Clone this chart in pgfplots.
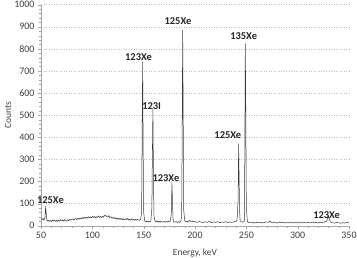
\documentclass[border=0pt]{standalone}
\usepackage{fontspec}
\setmainfont{Carlito}
\usepackage{pgfplots}
\pgfplotsset{compat=1.18}
\usepackage{pgfplotstable}
\definecolor{gridc}{HTML}{BFBFBF}
\definecolor{axc}{HTML}{A6A6A6}
\definecolor{txt}{HTML}{404040}
\definecolor{linec}{HTML}{3A3A3A}
\pgfplotstableread{
x y
50 30
51 27
52 33
53 25
54 40
54.5 88
55 60
55.5 30
56 21
57 25
58 19
59 24
60 20
61 25
62 21
63 26
64 20
65 24
66 19
67 25
68 21
69 27
70 22
71 26
72 21
73 28
74 23
75 21
76 27
77 22
78 29
79 24
80 28
81 31
82 25
83 30
84 33
85 27
86 34
87 29
88 35
89 30
90 37
91 32
92 39
93 33
94 38
95 34
96 41
97 35
98 40
99 36
100 42
101 37
102 43
103 35
104 41
105 37
106 44
107 38
108 42
109 36
110 43
111 39
112 46
113 48
114 41
115 39
116 45
117 37
118 41
119 34
120 38
121 32
122 37
123 30
124 35
125 29
126 34
127 28
128 33
129 27
130 32
131 26
132 31
133 27
134 33
135 26
136 30
137 25
138 31
139 26
140 29
141 24
142 30
143 25
144 29
145 26
146 24
147 30
148 60
148.5 400
149 742
149.5 350
150 60
151 22
152 17
153 21
154 16
155 20
156 17
157 22
158 80
158.5 330
159 530
159.5 250
160 45
161 21
162 17
163 22
164 16
165 20
166 15
167 21
168 17
169 18
170 20
171 15
172 19
173 16
174 20
175 17
176 22
177 60
177.5 196
178 120
178.5 40
179 20
180 16
181 17
182 18
183 14
184 18
185 15
186 18
187 40
187.5 400
188 885
188.5 500
189 70
190 22
191 17
192 21
193 16
194 22
195 24
196 19
197 17
198 21
199 16
200 19
202 15
204 19
206 16
208 14
210 18
212 15
214 19
216 14
218 17
220 15
222 18
224 14
226 17
228 15
230 18
232 14
234 17
236 15
238 18
240 19
241 25
242 120
242.5 370
243 200
243.5 60
244 22
245 18
246 17
247 16
248 20
248.5 300
249 825
249.5 500
250 80
251 20
252 15
254 13
256 16
258 12
260 15
262 13
264 16
266 12
268 15
270 17
272 15
273 22
274 16
276 13
278 15
280 12
282 16
284 13
286 15
288 12
290 16
292 13
294 15
296 12
298 16
300 13
302 15
304 12
306 16
308 13
310 15
312 12
314 16
316 13
318 15
320 12
322 16
324 13
326 17
328 20
329 30
330 42
331 28
332 17
334 13
336 12
338 15
340 13
342 11
344 14
346 12
348 15
350 12
}\spec
\begin{document}
\begin{tikzpicture}
\begin{axis}[
  name=ax,
  scale only axis, width=308bp, height=221bp,
  xmin=50, xmax=350, ymin=0, ymax=1000,
  axis x line=bottom, axis y line=left,
  axis line style={axc, -},
  xtick={50,100,...,350}, ytick={0,100,...,1000},
  minor x tick num=4, minor y tick num=4,
  tick style={axc}, major tick length=3bp, minor tick length=2bp,
  tick align=outside,
  ymajorgrids, major grid style={gridc, dash pattern=on 1bp off 1.5bp},
  ticklabel style={font=\fontsize{10}{11}\selectfont, text=txt},
  /pgf/number format/assume math mode=true,
  /pgf/number format/set thousands separator={},
  xlabel={Energy, keV}, ylabel={Counts},
  xlabel style={at={(axis description cs:0.5,-0.1235)}, anchor=center, font=\fontsize{9.5}{10}\selectfont, text=txt},
  ylabel style={at={(axis description cs:-0.107,0.5)}, anchor=center, font=\fontsize{9.5}{10}\selectfont, text=txt},
  clip=false,
]
\addplot[linec, line width=0.5pt, mark=none] table[x=x,y=y]{\spec};
\begin{scope}[every node/.style={font=\bfseries\fontsize{10.5}{11}\selectfont, text=black!85, inner sep=0pt}]
\node at (axis cs:59.2,116) {125Xe};
\node at (axis cs:145,762) {123Xe};
\node at (axis cs:157.8,542) {123I};
\node at (axis cs:171.7,216) {123Xe};
\node at (axis cs:183.4,926) {125Xe};
\node at (axis cs:247.4,860) {135Xe};
\node at (axis cs:232,409) {125Xe};
\node at (axis cs:328.2,50) {123Xe};
\end{scope}
\end{axis}
\pgfresetboundingbox
\path ([shift={(-41bp,-32.3bp)}]ax.south west) rectangle ([shift={(8bp,4.7bp)}]ax.north east);
\end{tikzpicture}
\end{document}
